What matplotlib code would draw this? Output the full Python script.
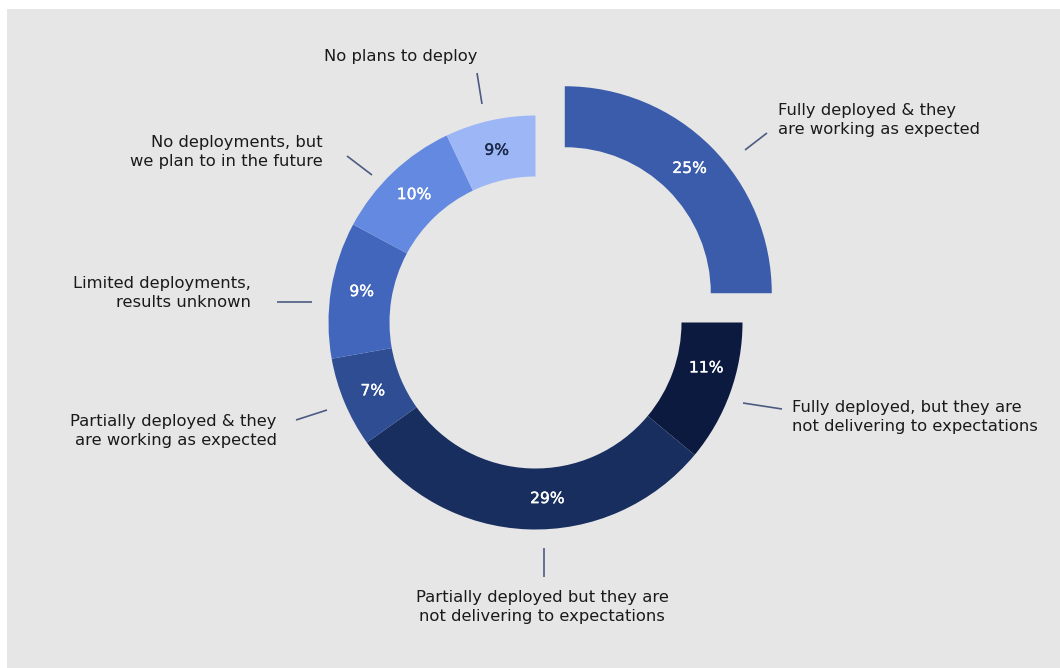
import matplotlib
matplotlib.use("Agg")
import matplotlib.pyplot as plt
import matplotlib.patheffects as pe
from matplotlib.patches import Rectangle
import numpy as np

# ---- data (clockwise from 12 o'clock) ----
categories = [
    "Fully deployed & they\nare working as expected",
    "Fully deployed, but they are\nnot delivering to expectations",
    "Partially deployed but they are\nnot delivering to expectations",
    "Partially deployed & they\nare working as expected",
    "Limited deployments,\nresults unknown",
    "No deployments, but\nwe plan to in the future",
    "No plans to deploy",
]
slice_sizes = [25, 11.05, 29.1, 7.05, 10.65, 10.1, 7.05]   # arc sizes as drawn
pct_labels = ["25%", "11%", "29%", "7%", "9%", "10%", "9%"]
explode_frac = [0.2, 0, 0, 0, 0, 0, 0]

colors = ["#3b5cab", "#0c1a40", "#182e5f", "#2f4d92", "#4266bc", "#6489e0", "#9db7f6"]
pct_colors = ["white", "white", "white", "white", "white", "white", "#1b2a4a"]

W, H = 1060, 668
fig = plt.figure(figsize=(W / 100, H / 100), dpi=100, facecolor="white")
ax = fig.add_axes([0, 0, 1, 1])

def py(y):
    return H - y

cx, cy = 535.5, py(322.5)
R, width = 207, 61
wedges, _ = ax.pie(slice_sizes, colors=colors, startangle=90, counterclock=False,
                   explode=[e * R for e in explode_frac], radius=R, center=(cx, cy),
                   wedgeprops=dict(width=width, edgecolor="none", linewidth=0),
                   frame=True)
ax.set_xlim(0, W)
ax.set_ylim(0, H)
ax.set_aspect("equal")
ax.axis("off")
ax.add_patch(Rectangle((7, 0), W - 7, H - 9, facecolor="#e6e6e6", edgecolor="none", zorder=-10))

# percentage labels at mid-ring along each wedge's bisector
tweak = [0, 5, 6, 0, -1, 0, 0]   # small angular nudges (degrees)
for w, lab, col, tw in zip(wedges, pct_labels, pct_colors, tweak):
    ang = np.deg2rad((w.theta1 + w.theta2) / 2 + tw)
    wx, wy = w.center
    r = w.r - w.width / 2
    ax.text(wx + r * np.cos(ang), wy + r * np.sin(ang), lab, color=col,
            fontsize=11.2, ha="center", va="center", family="DejaVu Sans",
            path_effects=[pe.withStroke(linewidth=0.25, foreground=col)])

# category labels (pixel anchored)
label_pos = [
    (778, 120, "left"),
    (792, 417, "left"),
    (542, 607, "center"),
    (277, 431, "right"),
    (251, 293, "right"),
    (323, 152, "right"),
    (401, 57, "center"),
]
for text, (x, y, ha) in zip(categories, label_pos):
    ax.text(x, py(y), text, fontsize=11.8, color="#1a1a1a", ha=ha, va="center",
            multialignment=ha, linespacing=1.4, family="DejaVu Sans")

# leader lines
leaders = [
    ((745, 150), (767, 133)),
    ((743, 403), (782, 409)),
    ((544, 548), (544, 577)),
    ((296, 420), (327, 410)),
    ((277, 302), (312, 302)),
    ((347, 156), (372, 175)),
    ((477, 73), (482, 104)),
]
for (x0, y0), (x1, y1) in leaders:
    ax.plot([x0, x1], [py(y0), py(y1)], color="#4d5b82", lw=1.2, solid_capstyle="butt")

fig.savefig("out.png", dpi=100, facecolor="white")
